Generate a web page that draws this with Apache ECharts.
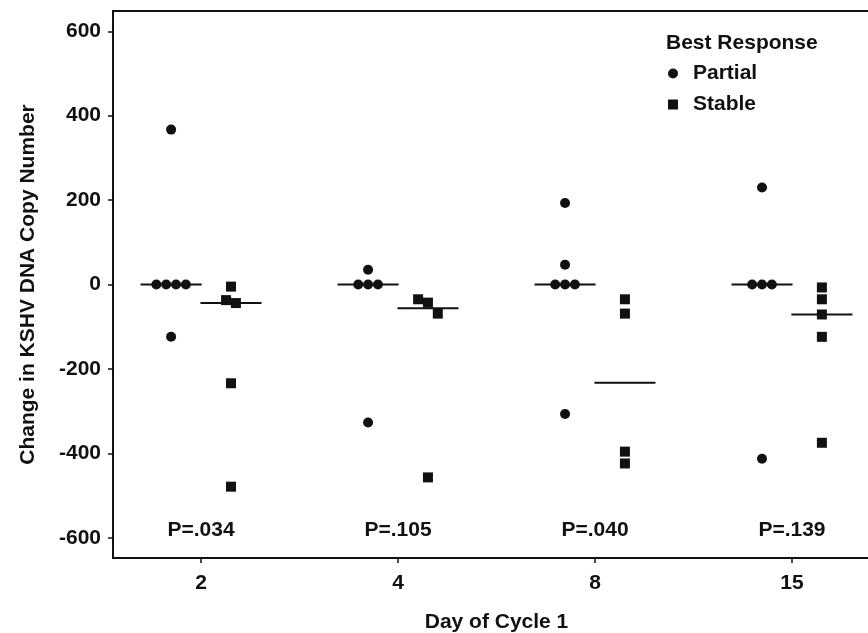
<!DOCTYPE html>
<html>
<head>
<meta charset="utf-8">
<script src="https://cdn.jsdelivr.net/npm/echarts@6/dist/echarts.min.js"></script>
<style>html,body{margin:0;padding:0;background:#fff}#main{width:868px;height:633px}</style>
</head>
<body>
<div id="main"></div>
<script>
// data
var days = ['2', '4', '8', '15'];
var partial = [
  [367, 0, 0, 0, 0, -124],
  [35, 0, 0, 0, -327],
  [193, 47, 0, 0, 0, -307],
  [230, 0, 0, 0, -413]
];
var stable = [
  [-5, -37, -44, -234, -479],
  [-35, -43, -69, -457],
  [-35, -69, -396, -424],
  [-7, -35, -71, -124, -375]
];
var pLabels = ['P=.034', 'P=.105', 'P=.040', 'P=.139'];
var pLabelY = -582;
var yTicks = [-600, -400, -200, 0, 200, 400, 600];

var font = 'Liberation Sans, Arial, sans-serif';
var DODGE = 0.152; // group offset from day center
var STEP = 0.05;   // spread of tied points
var HALF = 0.155;  // half width of median bar

// spread close values side by side (simple swarm)
function swarm(vals, center) {
  var pts = [];
  var i = 0;
  while (i < vals.length) {
    var j = i;
    while (j + 1 < vals.length && Math.abs(vals[j] - vals[j + 1]) < 27) j++;
    var n = j - i + 1;
    for (var k = 0; k < n; k++) {
      pts.push([center + (k - (n - 1) / 2) * STEP, vals[i + k]]);
    }
    i = j + 1;
  }
  return pts;
}

function median(arr) {
  var s = arr.slice().sort(function (a, b) { return a - b; });
  var m = Math.floor(s.length / 2);
  return s.length % 2 ? s[m] : (s[m - 1] + s[m]) / 2;
}

var partialPts = [], stablePts = [], medians = [], pPts = [];
for (var d = 0; d < days.length; d++) {
  partialPts = partialPts.concat(swarm(partial[d], d + 1 - DODGE));
  stablePts = stablePts.concat(swarm(stable[d], d + 1 + DODGE));
  medians.push([d + 1 - DODGE, median(partial[d])]);
  medians.push([d + 1 + DODGE, median(stable[d])]);
  pPts.push([d + 1, pLabelY]);
}

var chart = echarts.init(document.getElementById('main'));

var option = {
  backgroundColor: '#fff',
  animation: false,
  textStyle: { fontFamily: font },
  title: {
    text: 'Best Response',
    left: 666,
    top: 33,
    padding: 0,
    textStyle: { fontFamily: font, fontSize: 21, fontWeight: 'bold', color: '#111' }
  },
  legend: {
    data: ['Partial', 'Stable'],
    orient: 'vertical',
    left: 668,
    top: 63,
    padding: 0,
    itemWidth: 10,
    itemHeight: 10,
    itemGap: 10,
    textStyle: { fontFamily: font, fontSize: 21, fontWeight: 'bold', color: '#111', padding: [0, 0, 0, 10] }
  },
  grid: {
    left: 113,
    width: 767,
    top: 11,
    bottom: 75,
    outerBoundsMode: 'none',
    show: true,
    borderColor: '#111',
    borderWidth: 2
  },
  xAxis: {
    type: 'value',
    min: 0.553,
    max: 4.447,
    name: 'Day of Cycle 1',
    nameLocation: 'middle',
    nameGap: 54,
    nameTextStyle: { fontFamily: font, fontSize: 21, fontWeight: 'bold', color: '#111' },
    axisLine: { show: true, onZero: false, lineStyle: { color: '#111', width: 2 } },
    axisTick: { show: true, customValues: [1, 2, 3, 4], length: 5, lineStyle: { color: '#111', width: 1.5 } },
    axisLabel: {
      customValues: [1, 2, 3, 4],
      margin: 15,
      fontSize: 21,
      fontWeight: 'bold',
      color: '#111',
      formatter: function (v) { return days[Math.round(v) - 1]; }
    },
    splitLine: { show: false }
  },
  yAxis: {
    type: 'value',
    min: -648,
    max: 648,
    name: 'Change in KSHV DNA Copy Number',
    nameLocation: 'middle',
    nameGap: 74,
    nameTextStyle: { fontFamily: font, fontSize: 21, fontWeight: 'bold', color: '#111' },
    axisLine: { show: true, onZero: false, lineStyle: { color: '#111', width: 2 } },
    axisTick: { show: true, customValues: yTicks, length: 5, lineStyle: { color: '#111', width: 1.5 } },
    axisLabel: {
      customValues: yTicks,
      margin: 12,
      fontSize: 21,
      fontWeight: 'bold',
      color: '#111'
    },
    splitLine: { show: false }
  },
  series: [
    {
      name: 'Medians',
      type: 'custom',
      z: 1,
      silent: true,
      encode: { x: 0, y: 1 },
      data: medians,
      renderItem: function (params, api) {
        var x = api.value(0), y = api.value(1);
        var a = api.coord([x - HALF, y]);
        var b = api.coord([x + HALF, y]);
        return {
          type: 'line',
          shape: { x1: a[0], y1: a[1], x2: b[0], y2: b[1] },
          style: { stroke: '#111', lineWidth: 2 }
        };
      }
    },
    {
      name: 'Partial',
      type: 'scatter',
      z: 3,
      symbol: 'circle',
      symbolSize: 10,
      itemStyle: { color: '#111', opacity: 1 },
      data: partialPts
    },
    {
      name: 'Stable',
      type: 'scatter',
      z: 3,
      symbol: 'rect',
      symbolSize: 10,
      itemStyle: { color: '#111', opacity: 1 },
      data: stablePts
    },
    {
      name: 'P values',
      type: 'scatter',
      symbolSize: 0,
      silent: true,
      itemStyle: { opacity: 1 },
      data: pPts,
      label: {
        show: true,
        position: 'inside',
        fontFamily: font,
        fontSize: 21,
        fontWeight: 'bold',
        color: '#111',
        opacity: 1,
        formatter: function (p) { return pLabels[p.dataIndex]; }
      }
    }
  ]
};

chart.setOption(option);
</script>
</body>
</html>
